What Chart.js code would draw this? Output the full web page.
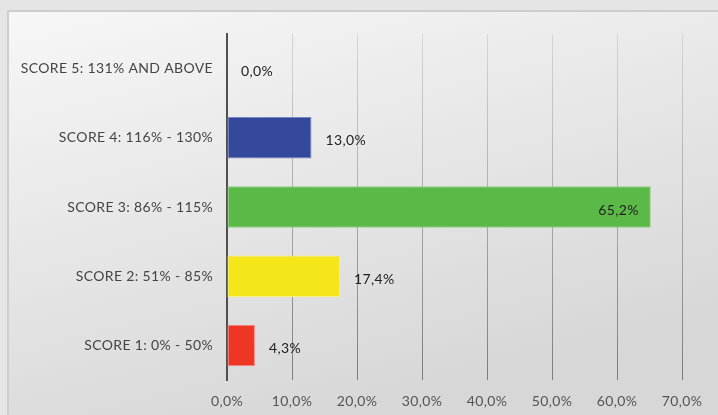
<!DOCTYPE html>
<html>
<head>
<meta charset="utf-8">
<script src="https://cdn.jsdelivr.net/npm/chart.js@4.4.1/dist/chart.umd.min.js"></script>
<style>
  html, body { margin: 0; padding: 0; background: #e5e5e5; }
  #wrap { width: 718px; height: 415px; }
</style>
</head>
<body>
<div id="wrap"><canvas id="scoreChart"></canvas></div>
<script>
// score bands, top to bottom
const scoreLabels = [
    'SCORE 5: 131% AND ABOVE',
    'SCORE 4: 116% - 130%',
    'SCORE 3: 86% - 115%',
    'SCORE 2: 51% - 85%',
    'SCORE 1: 0% - 50%'
];
const scoreShares = [0.0, 13.0, 65.2, 17.4, 4.3];
const barColors = ['#34489c', '#34489c', '#5ab947', '#f5e61a', '#ef3524'];
const barEdges = ['#7584c4', '#7584c4', '#92d283', '#fbf183', '#f68b7c'];
const axisMax = 70;

const FONT = 'Lato, sans-serif';

function pct(v) {
    return v.toFixed(1).replace('.', ',') + '%';
}

// grey frame with a soft panel behind the plot
const panelBg = {
    id: 'panelBg',
    beforeDraw(chart) {
        const { ctx, width, height } = chart;
        // slightly open tracking for all chart text
        ctx.letterSpacing = '0.35px';
        ctx.save();
        ctx.fillStyle = '#e5e5e5';
        ctx.fillRect(0, 0, width, height);
        const g = ctx.createLinearGradient(0, 10, 120, height + 60);
        g.addColorStop(0, '#f7f7f7');
        g.addColorStop(1, '#d7d7d7');
        ctx.fillStyle = g;
        ctx.fillRect(8, 10, width, height);
        ctx.strokeStyle = '#cdcdcd';
        ctx.lineWidth = 2;
        ctx.beginPath();
        ctx.moveTo(8, height);
        ctx.lineTo(8, 11);
        ctx.lineTo(width, 11);
        ctx.stroke();
        ctx.restore();
    }
};

// value labels next to each bar (inside the end when the bar is long)
const valueLabels = {
    id: 'valueLabels',
    afterDatasetsDraw(chart) {
        const { ctx } = chart;
        const meta = chart.getDatasetMeta(0);
        ctx.save();
        ctx.font = '14px ' + FONT;
        ctx.fillStyle = '#222';
        ctx.textBaseline = 'middle';
        meta.data.forEach((bar, i) => {
            const v = scoreShares[i];
            const y = bar.y + 3;
            if (v > 50) {
                ctx.textAlign = 'right';
                ctx.fillText(pct(v), bar.x - 12, y);
            } else {
                ctx.textAlign = 'left';
                ctx.fillText(pct(v), bar.x + 14, y);
            }
        });
        ctx.restore();
    }
};

function gridColor(context) {
    const chart = context.chart;
    const area = chart.chartArea;
    if (!area) return '#999';
    const g = chart.ctx.createLinearGradient(0, area.top, 0, area.bottom);
    g.addColorStop(0, '#d6d6d6');
    g.addColorStop(1, '#7c7c7c');
    return g;
}

const ctx = document.getElementById('scoreChart').getContext('2d');
new Chart(ctx, {
    type: 'bar',
    data: {
        labels: scoreLabels,
        datasets: [{
            data: scoreShares,
            backgroundColor: barColors,
            borderColor: barEdges,
            borderWidth: 1,
            borderSkipped: false,
            barPercentage: 0.6,
            categoryPercentage: 1
        }]
    },
    options: {
        indexAxis: 'y',
        responsive: true,
        maintainAspectRatio: false,
        animation: false,
        layout: { padding: { top: 34, right: 36, left: 0, bottom: 0 } },
        plugins: {
            legend: { display: false },
            tooltip: { enabled: false }
        },
        scales: {
            x: {
                min: 0,
                max: axisMax,
                ticks: {
                    stepSize: 10,
                    padding: 13,
                    color: '#555',
                    font: { family: FONT, size: 14 },
                    callback: v => pct(v)
                },
                grid: {
                    color: gridColor,
                    lineWidth: 1,
                    drawTicks: false
                },
                border: { display: false },
                afterFit(scale) { scale.height = 35; }
            },
            y: {
                ticks: {
                    padding: 14,
                    color: '#444',
                    font: { family: FONT, size: 14 }
                },
                grid: { display: false, drawTicks: false },
                border: { display: true, color: '#505050', width: 2 },
                afterFit(scale) { scale.width = 227; }
            }
        }
    },
    plugins: [panelBg, valueLabels]
});
</script>
</body>
</html>
